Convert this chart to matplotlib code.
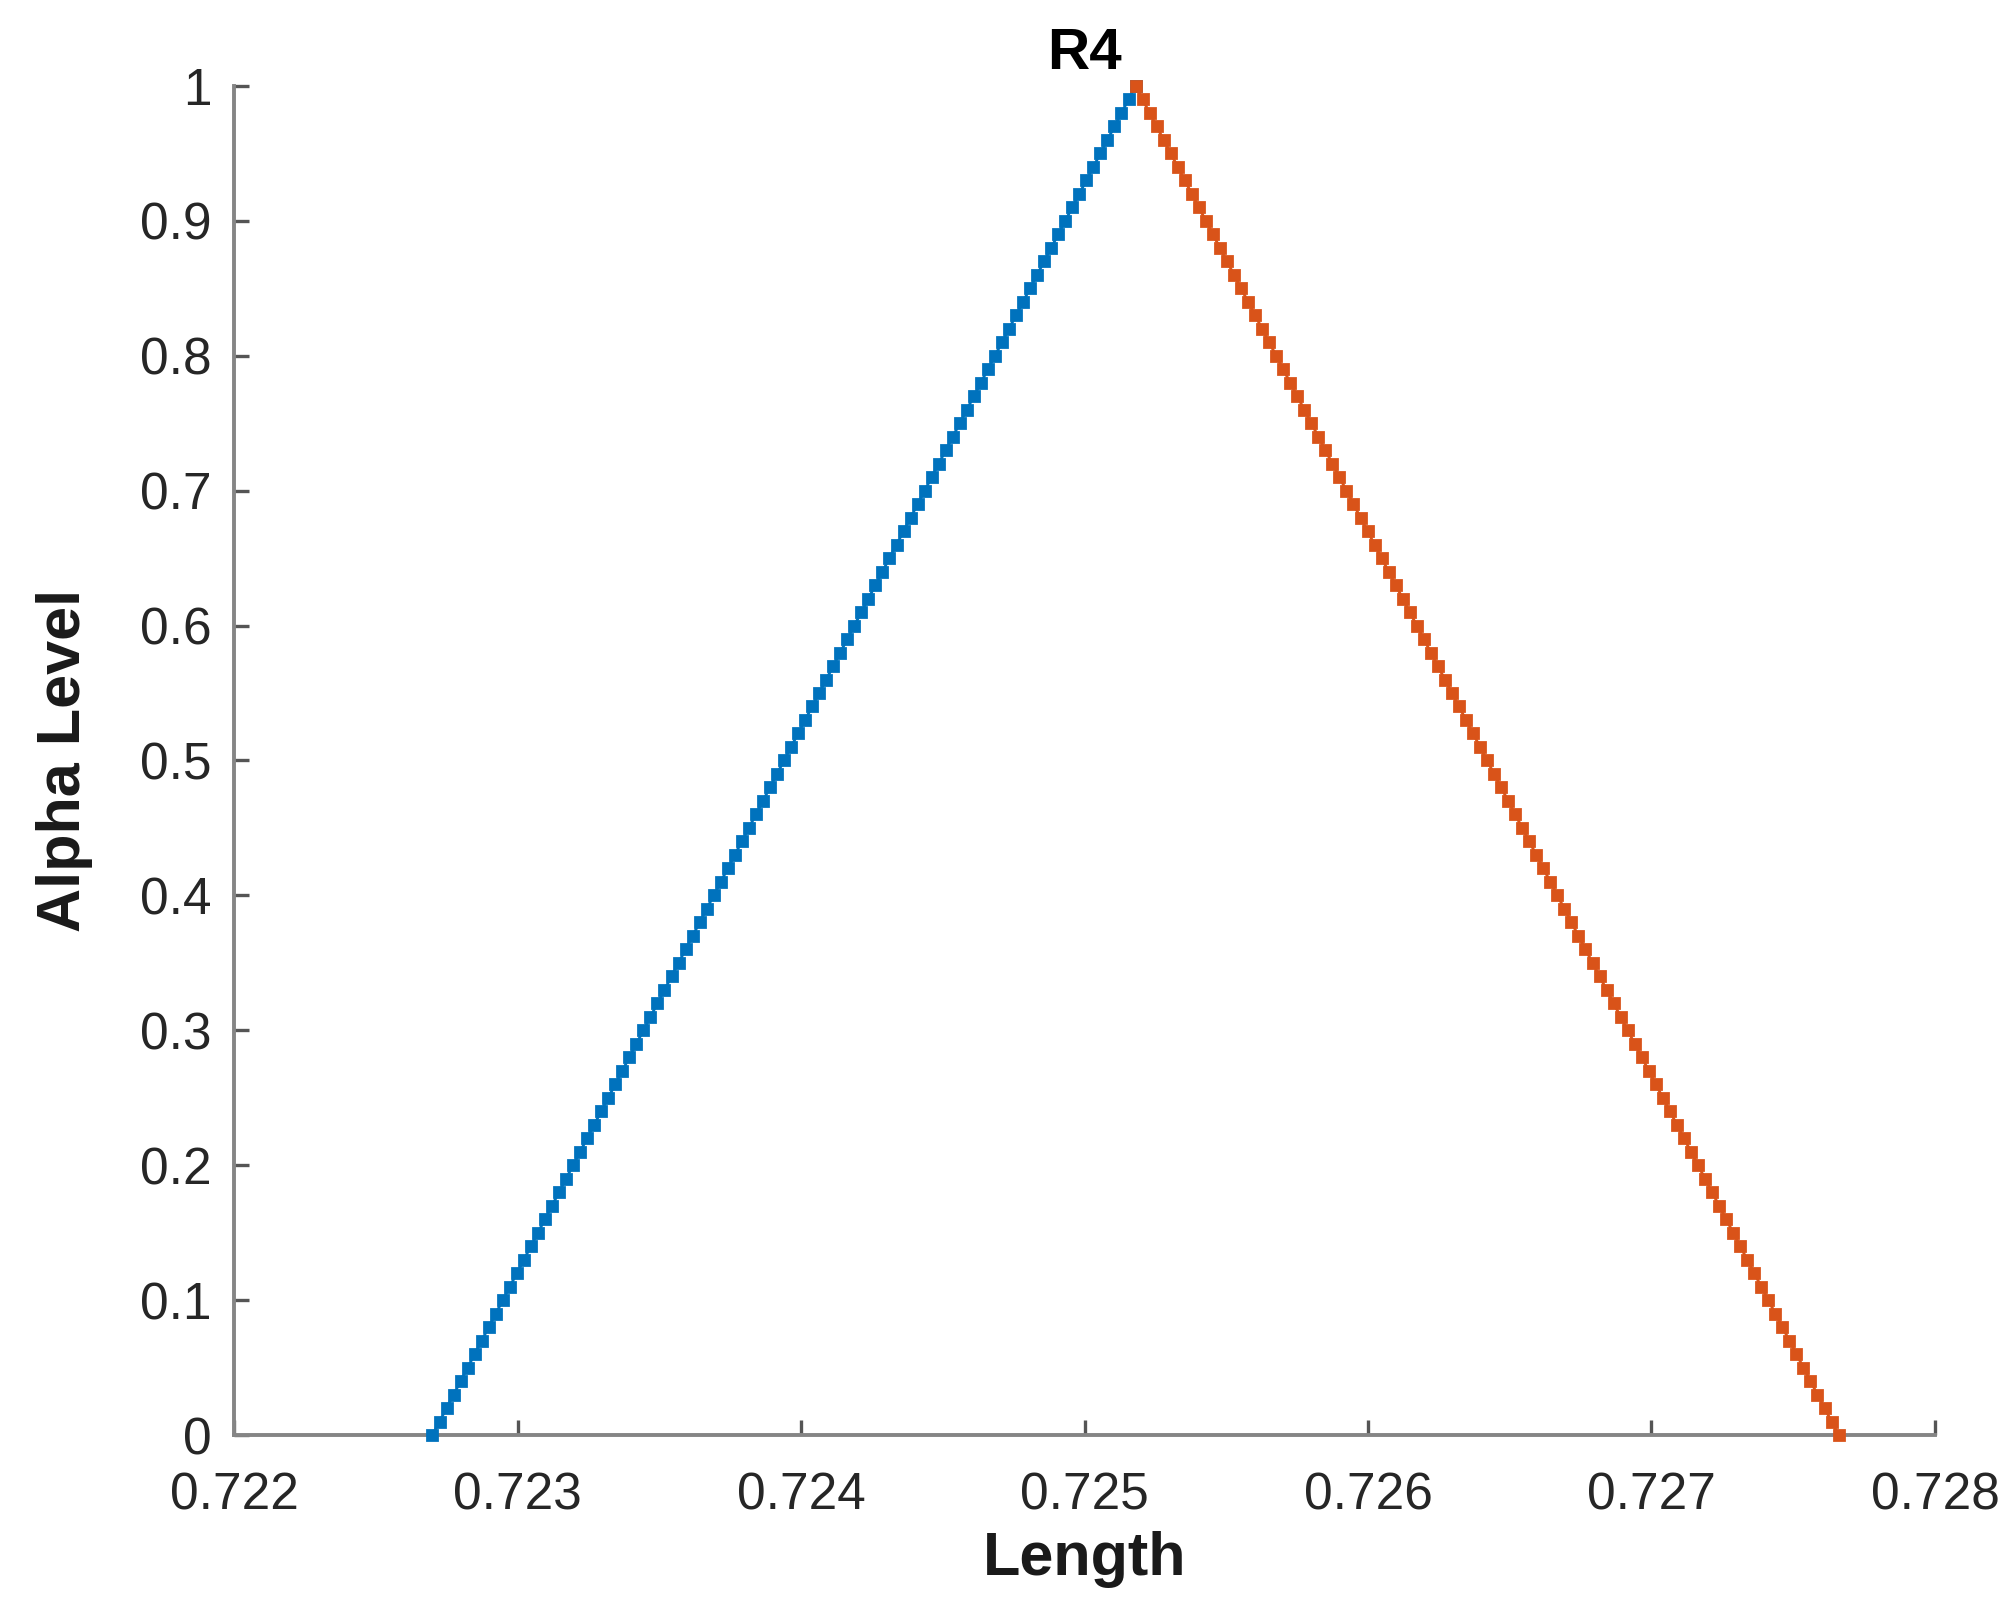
import numpy as np
import matplotlib.pyplot as plt

plt.rcParams['font.family'] = ['Liberation Sans', 'DejaVu Sans']

# triangular fuzzy number (lower, peak, upper)
tri_lower = 0.72270
tri_peak = 0.72518
tri_upper = 0.72766

# alpha levels 0, 0.01, ..., 1 and the alpha-cut bounds
alpha = np.round(np.arange(0, 101) / 100, 2)
left_bound = tri_lower + alpha * (tri_peak - tri_lower)
right_bound = tri_upper - alpha * (tri_upper - tri_peak)

x_ticks = [0.722, 0.723, 0.724, 0.725, 0.726, 0.727, 0.728]
x_ticklabels = ['0.722', '0.723', '0.724', '0.725', '0.726', '0.727', '0.728']
y_ticks = [0, 0.1, 0.2, 0.3, 0.4, 0.5, 0.6, 0.7, 0.8, 0.9, 1]
y_ticklabels = ['0', '0.1', '0.2', '0.3', '0.4', '0.5', '0.6', '0.7', '0.8', '0.9', '1']

fig = plt.figure(figsize=(10.08, 8.06), dpi=200)
ax = fig.add_axes([0.1161, 0.1098, 0.8437, 0.8369])

ax.plot(left_bound, alpha, '-s', color='#0072BD', lw=1.0, ms=3.3,
        mec='#0072BD', clip_on=False, zorder=3)
ax.plot(right_bound, alpha, '-s', color='#D95319', lw=1.0, ms=3.3,
        mec='#D95319', clip_on=False, zorder=3)

ax.set_xlim(0.722, 0.728)
ax.set_ylim(0, 1)
ax.set_xticks(x_ticks)
ax.set_xticklabels(x_ticklabels)
ax.set_yticks(y_ticks)
ax.set_yticklabels(y_ticklabels)

for side in ['top', 'right']:
    ax.spines[side].set_visible(False)
for side in ['left', 'bottom']:
    ax.spines[side].set_color('#858585')
    ax.spines[side].set_linewidth(1.4)

ax.tick_params(direction='in', length=5.5, width=1.2, color='#555555',
               labelsize=18.5, labelcolor='#262626')
ax.tick_params(axis='x', pad=13)
ax.tick_params(axis='y', pad=8)

ax.set_xlabel('Length', fontsize=22, fontweight='bold', color='#1a1a1a', labelpad=4)
ax.set_ylabel('Alpha Level', fontsize=22, fontweight='bold', color='#1a1a1a', labelpad=17)
ax.set_title('R4', fontsize=21, fontweight='bold', color='#000000', pad=6)

fig.savefig('out.png', dpi=200)
